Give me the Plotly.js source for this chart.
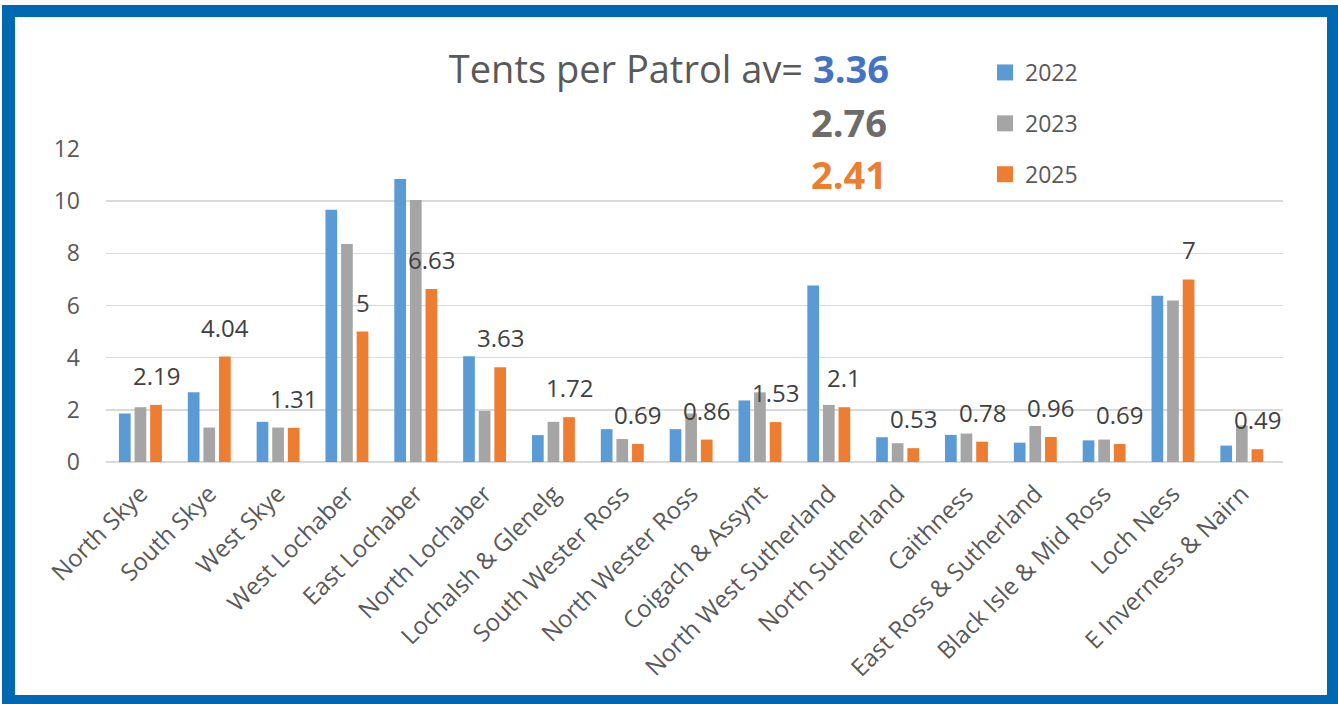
<!DOCTYPE html>
<html>
<head>
<meta charset="utf-8">
<script src="https://cdn.plot.ly/plotly-3.0.1.min.js"></script>
<style>
  html, body { margin: 0; padding: 0; background: #ffffff; }
  #wrap { position: relative; width: 1338px; height: 704px; overflow: hidden; }
  #chart { position: absolute; left: 0; top: 0; width: 1338px; height: 704px; }
  #frame { position: absolute; left: 2px; top: 5px; width: 1336px; height: 699px;
           box-sizing: border-box; border-style: solid; border-color: #0068B3;
           border-width: 12px 11px 9px 13px; pointer-events: none; }
</style>
</head>
<body>
<div id="wrap">
  <div id="chart"></div>
  <div id="frame"></div>
</div>
<script>
// ---- data ----
const categories = ["North Skye", "South Skye", "West Skye", "West Lochaber", "East Lochaber",
  "North Lochaber", "Lochalsh & Glenelg", "South Wester Ross", "North Wester Ross",
  "Coigach & Assynt", "North West Sutherland", "North Sutherland", "Caithness",
  "East Ross & Sutherland", "Black Isle & Mid Ross", "Loch Ness", "E Inverness & Nairn"];
const series2022 = [1.86, 2.67, 1.54, 9.67, 10.85, 4.05, 1.03, 1.26, 1.26, 2.36, 6.77, 0.95, 1.04, 0.74, 0.83, 6.37, 0.63];
const series2023 = [2.10, 1.32, 1.32, 8.36, 10.04, 1.96, 1.54, 0.88, 1.86, 2.67, 2.19, 0.72, 1.09, 1.38, 0.86, 6.19, 1.40];
const series2025 = [2.19, 4.04, 1.31, 5, 6.63, 3.63, 1.72, 0.69, 0.86, 1.53, 2.1, 0.53, 0.78, 0.96, 0.69, 7, 0.49];
const seriesNames = ["2022", "2023", "2025"];
const averages = [3.36, 2.76, 2.41];
const yTicks = [0, 2, 4, 6, 8, 10, 12];
const titleText = "Tents per Patrol av=";

// ---- style ----
const colors = ["#5B9BD5", "#A5A5A5", "#ED7D31"];
const avgColors = ["#4472C4", "#6F6B6B", "#ED7D31"];
const FONT = "Open Sans, Noto Sans, sans-serif";
const W = 1338, H = 704;
const M = { l: 106, r: 55, t: 149, b: 242, autoexpand: false };
const BARGAP = 0.32;
const plotW = W - M.l - M.r;
const plotH = H - M.t - M.b;
const slotPx = (1 - BARGAP) / 3 * plotW / categories.length;
const px2paperX = px => (px - M.l) / plotW;
const px2paperY = py => (H - M.b - py) / plotH;

const allSeries = [series2022, series2023, series2025];
const traces = allSeries.map((vals, i) => ({
  type: "bar", x: categories, y: vals, name: seriesNames[i],
  marker: { color: colors[i] }, showlegend: false, hoverinfo: "skip"
}));
// legend entries (square markers)
seriesNames.forEach((n, i) => traces.push({
  type: "scatter", mode: "markers", x: [null], y: [null], name: n,
  legendgroup: n, marker: { symbol: "square", size: 16, color: colors[i] }, hoverinfo: "skip"
}));

const annotations = series2025.map((v, i) => ({
  xref: "x", yref: "y", x: categories[i], y: v, text: String(v),
  xshift: slotPx, yshift: 11, yanchor: "bottom", xanchor: "center", showarrow: false,
  font: { family: FONT, size: 24, color: "#404040" }
}));
// average lines 2 and 3
[1, 2].forEach(k => annotations.push({
  xref: "paper", yref: "paper", x: px2paperX(889), y: px2paperY(k === 1 ? 122 : 174),
  xanchor: "right", yanchor: "middle", showarrow: false,
  text: "<b>" + averages[k].toFixed(2) + "</b>",
  font: { family: FONT, size: 38, color: avgColors[k] }
}));

const layout = {
  width: W, height: H,
  margin: M,
  paper_bgcolor: "#ffffff", plot_bgcolor: "#ffffff",
  font: { family: FONT, color: "#595959" },
  barmode: "group", bargap: BARGAP, bargroupgap: 0.25,
  title: {
    text: titleText + " <b><span style='color:" + avgColors[0] + "'>" + averages[0].toFixed(2) + "</span></b>",
    xref: "container", yref: "container", x: 889 / W, y: 1 - 70 / H,
    xanchor: "right", yanchor: "middle",
    font: { family: FONT, size: 38, color: "#595959" }
  },
  xaxis: {
    type: "category", tickangle: -45, showgrid: false, showline: false, zeroline: false,
    ticks: "", tickfont: { family: FONT, size: 24, color: "#595959" }, ticklabelstandoff: 12
  },
  yaxis: {
    range: [0, 12], tickvals: yTicks, showgrid: true, gridcolor: "#D9D9D9", gridwidth: 1.5,
    zeroline: true, zerolinecolor: "#D9D9D9", zerolinewidth: 1.5, showline: false, ticks: "",
    tickfont: { family: FONT, size: 23, color: "#595959" }, ticklabelstandoff: 25
  },
  legend: {
    xref: "paper", yref: "paper", x: px2paperX(985), y: px2paperY(51),
    xanchor: "left", yanchor: "top", tracegroupgap: 18,
    font: { family: FONT, size: 23, color: "#595959" }, bgcolor: "rgba(0,0,0,0)"
  },
  showlegend: true,
  annotations: annotations
};

Plotly.newPlot("chart", traces, layout, { staticPlot: true, displayModeBar: false });
</script>
</body>
</html>
